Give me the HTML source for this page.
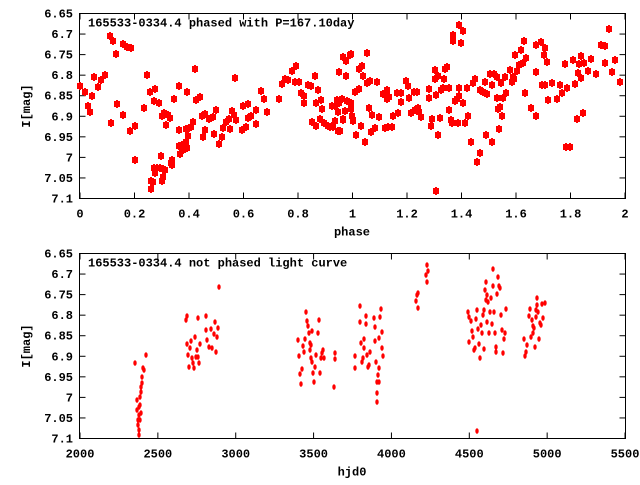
<!DOCTYPE html>
<html><head><meta charset="utf-8"><style>
html,body{margin:0;padding:0;background:#fff;}
svg text{font-family:"Liberation Mono","DejaVu Sans Mono",monospace;font-weight:bold;font-size:12px;fill:#000;}
</style></head><body>
<svg id="s" xmlns="http://www.w3.org/2000/svg" width="640" height="480" viewBox="0 0 640 480">
<rect width="640" height="480" fill="#fff"/>
<g id="g"></g>
</svg>
<script>
(function(){
var NS="http://www.w3.org/2000/svg",g=document.getElementById('g');
function el(t,a,txt){var e=document.createElementNS(NS,t);for(var k in a)e.setAttribute(k,a[k]);if(txt!=null)e.textContent=txt;g.appendChild(e);return e;}
function frame(x0,y0,x1,y1){el('rect',{x:x0,y:y0,width:x1-x0,height:y1-y0,fill:'none',stroke:'#000','stroke-width':1});}
var L=79.5,R=625.5,T1=13.5,B1=198.5,T2=253.5,B2=438.5;
function yt(v,T,B){return T+(v-6.65)/0.45*(B-T);}
function axes(T,B,xt,xl,title,xlab){
 frame(L,T,R,B);
 for(var i=0;i<=9;i++){var v=6.65+i*0.05,y=yt(v,T,B);
  el('line',{x1:L,y1:y,x2:L+6,y2:y,stroke:'#000'});el('line',{x1:R,y1:y,x2:R-6,y2:y,stroke:'#000'});
  var s=(Math.round(v*100)/100).toString();
  el('text',{x:73,y:y+4,'text-anchor':'end'},s);}
 for(var j=0;j<xt.length;j++){var x=xt[j];
  el('line',{x1:x,y1:B,x2:x,y2:B-6,stroke:'#000'});el('line',{x1:x,y1:T,x2:x,y2:T+6,stroke:'#000'});
  el('text',{x:x,y:B+19,'text-anchor':'middle'},xl[j]);}
 el('text',{x:88,y:T+13},title);
 el('text',{x:352,y:B+37,'text-anchor':'middle'},xlab);
 var cy=(T+B)/2;el('text',{x:30,y:cy,'text-anchor':'middle',transform:'rotate(-90 30 '+cy+')'},'I[mag]');
}
var xt1=[],xl1=[];for(var i=0;i<=10;i++){xt1.push(80+i*54.5);xl1.push(i%5==0?(i/5).toString():(i/5).toFixed(1));}
axes(T1,B1,xt1,xl1,'165533-0334.4 phased with P=167.10day','phase');
var xt2=[],xl2=[];for(var i=0;i<=7;i++){xt2.push(80+i*77.86);xl2.push((2000+i*500).toString());}
axes(T2,B2,xt2,xl2,'165533-0334.4 not phased light curve','hjd0');
var tp=[80,86,85,92,88,106,90,112,92,96,94,77,98,87,101,80,105,75,110,36,113,41,116,54,117,104,111,123,123,115,123,44,127,47,131,48,130,131,135,126,135,160,144,108,147,75,150,92,155,89,154,101,159,103,151,181,151,189,153,182,154,168,155,173,157,168,160,168,161,156,162,181,163,169,163,177,165,170,162,116,164,113,166,125,168,115,170,118,171,163,172,160,172,165,174,99,179,86,179,130,179,146,180,154,182,145,183,150,185,147,186,142,187,148,188,136,186,129,189,128,191,127,193,122,187,92,195,69,196,100,200,97,203,137,202,116,205,114,205,130,209,119,213,117,214,134,216,110,219,144,222,137,223,128,226,122,229,119,230,129,232,111,234,115,235,78,236,120,242,130,243,106,246,127,248,104,248,118,251,116,256,124,256,110,261,91,264,99,267,112,279,99,282,84,285,79,288,80,292,71,296,66,295,82,299,82,301,93,304,103,304,96,308,85,311,86,312,122,315,76,316,126,318,90,316,103,321,100,322,109,320,119,324,123,328,126,330,127,332,106,332,126,335,121,338,131,339,72,339,103,343,57,346,61,346,76,345,111,347,101,343,120,350,55,351,103,353,120,355,92,356,135,359,69,
333,127,335,106,335,121,337,100,338,112,339,102,340,131,342,99,343,119,351,109,352,116,353,121,351,54,359,89,361,126,362,66,363,76,365,142,367,53,367,83,369,108,370,81,372,115,371,132,375,128,377,82,379,117,383,94,385,128,387,99,387,90,388,127,389,97,392,127,393,116,398,113,397,93,401,93,401,102,406,81,408,86,409,98,411,113,414,92,415,110,418,108,417,92,419,112,421,117,429,98,429,89,431,126,432,119,435,79,435,70,436,95,438,135,438,76,440,118,441,90,443,88,444,79,445,69,447,67,449,110,449,88,451,120,452,123,453,35,453,41,455,101,457,99,458,123,459,88,459,96,459,25,461,43,463,31,463,103,465,123,467,88,468,116,471,142,473,83,475,79,477,162,480,90,480,153,483,92,485,82,486,135,485,93,487,94,490,74,492,142,492,85,494,74,497,98,497,77,498,109,499,129,500,107,501,83,502,116,503,98,506,93,505,77,510,70,512,82,513,77,514,79,515,55,517,71,519,65,521,50,523,63,524,41,525,93,526,58,531,108,536,72,536,116,536,45,541,42,542,85,544,55,545,48,545,85,547,62,548,100,552,83,557,99,560,85,562,93,565,64,566,147,567,88,570,147,573,60,575,84,577,119,578,73,579,64,581,78,581,56,583,113,584,63,588,71,591,59,596,74,601,45,605,46,605,63,609,29,612,72,615,60,620,82,436,191];
for(var i=0;i<tp.length;i+=2){el('rect',{x:tp[i]-3,y:tp[i+1]-3,width:6,height:6,fill:'#f00'});el('rect',{x:tp[i]-1,y:tp[i+1]-4,width:2,height:8,fill:'#f00'});}
var bt=[135,363,137,400,138,420,139,430,139,407,140,397,141,413,141,387,142,377,143,368,144,370,146,355,138,425,139,415,140,405,141,392,142,383,140,420,137,410,139,435,
187,316,186,320,187,344,188,355,189,367,190,348,191,341,192,358,193,363,194,368,195,337,196,357,197,350,198,357,199,363,198,318,200,344,206,316,206,330,207,340,209,347,211,329,212,348,214,334,215,322,216,352,217,337,218,328,219,287,
298,340,299,356,300,374,301,384,302,369,303,346,304,352,305,339,306,312,307,321,308,326,309,333,310,343,311,358,312,331,313,373,314,382,315,367,316,355,318,333,319,320,320,373,321,358,322,353,323,350,324,358,310,350,311,345,312,362,
334,387,335,353,335,359,355,356,355,368,360,306,360,322,361,343,362,362,363,358,364,339,364,348,366,316,366,324,367,355,368,367,369,365,370,352,374,318,375,327,375,341,376,362,377,382,377,393,377,402,378,375,379,368,379,338,380,317,381,309,382,332,382,348,383,356,379,382,
416,301,417,295,418,293,418,308,426,275,427,265,428,271,427,282,
468,312,469,317,469,342,471,321,472,331,473,337,474,350,475,348,476,319,477,310,478,329,479,344,480,358,481,325,482,333,483,315,484,349,484,310,485,290,486,282,487,295,488,302,489,333,490,312,491,298,492,324,493,269,493,286,494,312,495,333,496,347,496,352,497,294,498,277,499,286,500,288,501,315,502,330,503,353,504,339,505,333,506,309,477,431,486,300,487,322,
524,339,525,356,526,352,527,345,529,316,530,309,531,337,532,320,533,333,534,328,535,347,536,317,537,298,537,305,538,312,539,339,540,323,541,325,542,304,543,318,545,303,533,326,536,310];
for(var i=0;i<bt.length;i+=2){el('ellipse',{cx:bt[i],cy:bt[i+1],rx:1.7,ry:2.8,fill:'#f00'});}
})();
</script>
</body></html>
